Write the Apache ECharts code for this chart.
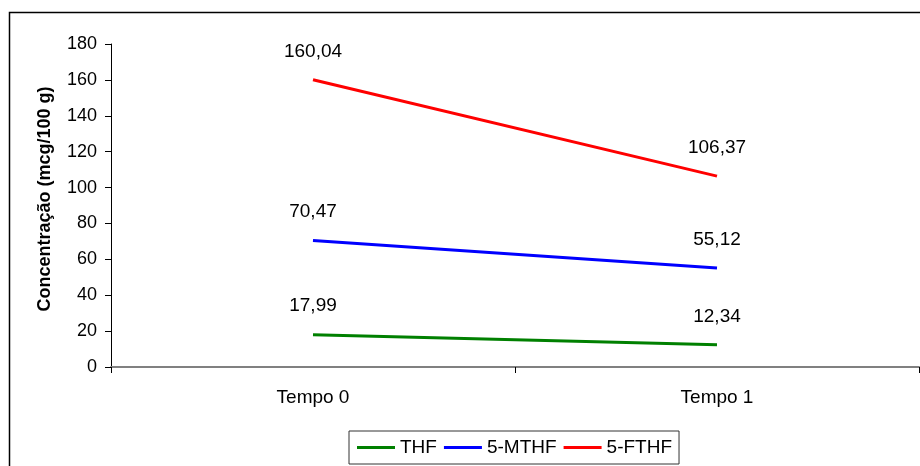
<!DOCTYPE html>
<html>
<head>
<meta charset="utf-8">
<script src="https://cdn.jsdelivr.net/npm/echarts@6/dist/echarts.min.js"></script>
<style>
  html, body { margin: 0; padding: 0; background: #fff; }
  #chart { width: 920px; height: 466px; }
</style>
</head>
<body>
<div id="chart"></div>
<script>
// Folate concentrations at two sampling times
const categories = ['Tempo 0', 'Tempo 1'];
const thf = [17.99, 12.34];
const mthf = [70.47, 55.12];
const fthf = [160.04, 106.37];
const seriesNames = ['THF', '5-MTHF', '5-FTHF'];
const seriesColors = ['#008000', '#0000ff', '#ff0000'];
const yTitle = 'Concentração (mcg/100 g)';

const FONT = '"Liberation Sans", Arial, sans-serif';

function fmt(v) {
  return v.toFixed(2).replace('.', ',');
}

function lineSeries(name, data, color) {
  return {
    name: name,
    type: 'line',
    data: data,
    symbol: 'circle',
    symbolSize: 0,
    showSymbol: true,
    lineStyle: { color: color, width: 3 },
    itemStyle: { color: color },
    label: {
      show: true,
      position: 'top',
      distance: 19,
      color: '#000',
      fontFamily: FONT,
      fontSize: 19,
      formatter: p => fmt(p.value)
    },
    emphasis: { disabled: true }
  };
}

const chart = echarts.init(document.getElementById('chart'), null, { renderer: 'canvas' });
chart.setOption({
  animation: false,
  backgroundColor: '#fff',
  grid: { left: 111, top: 44, right: 1, bottom: 99 },
  xAxis: {
    type: 'category',
    data: categories,
    boundaryGap: true,
    axisLine: { lineStyle: { color: '#808080', width: 2 } },
    axisTick: { show: true, length: 6, interval: 0, lineStyle: { color: '#000', width: 1 } },
    axisLabel: { color: '#000', fontFamily: FONT, fontSize: 19, margin: 21 },
    splitLine: { show: false }
  },
  yAxis: {
    type: 'value',
    min: 0,
    max: 180,
    interval: 20,
    axisLine: { show: true, lineStyle: { color: '#000', width: 1 } },
    axisTick: { show: true, length: 6, lineStyle: { color: '#000', width: 1 } },
    axisLabel: { color: '#000', fontFamily: FONT, fontSize: 18, margin: 14 },
    splitLine: { show: false }
  },
  legend: {
    data: seriesNames,
    left: 349,
    top: 431,
    padding: [7, 7, 7, 8],
    itemGap: 7,
    itemWidth: 38,
    itemHeight: 3,
    icon: 'rect',
    borderColor: '#333',
    borderWidth: 1,
    textStyle: { color: '#000', fontFamily: FONT, fontSize: 19 }
  },
  graphic: [
    {
      type: 'rect',
      shape: { x: 9.5, y: 12.5, width: 930, height: 480 },
      style: { fill: 'none', stroke: '#000', lineWidth: 1.5 },
      silent: true
    },
    {
      type: 'text',
      x: 45,
      y: 199,
      rotation: Math.PI / 2,
      style: {
        text: yTitle,
        fill: '#000',
        font: 'bold 18px ' + FONT,
        textAlign: 'center',
        textVerticalAlign: 'middle'
      },
      silent: true
    }
  ],
  series: [
    lineSeries(seriesNames[0], thf, seriesColors[0]),
    lineSeries(seriesNames[1], mthf, seriesColors[1]),
    lineSeries(seriesNames[2], fthf, seriesColors[2])
  ]
});
</script>
</body>
</html>
